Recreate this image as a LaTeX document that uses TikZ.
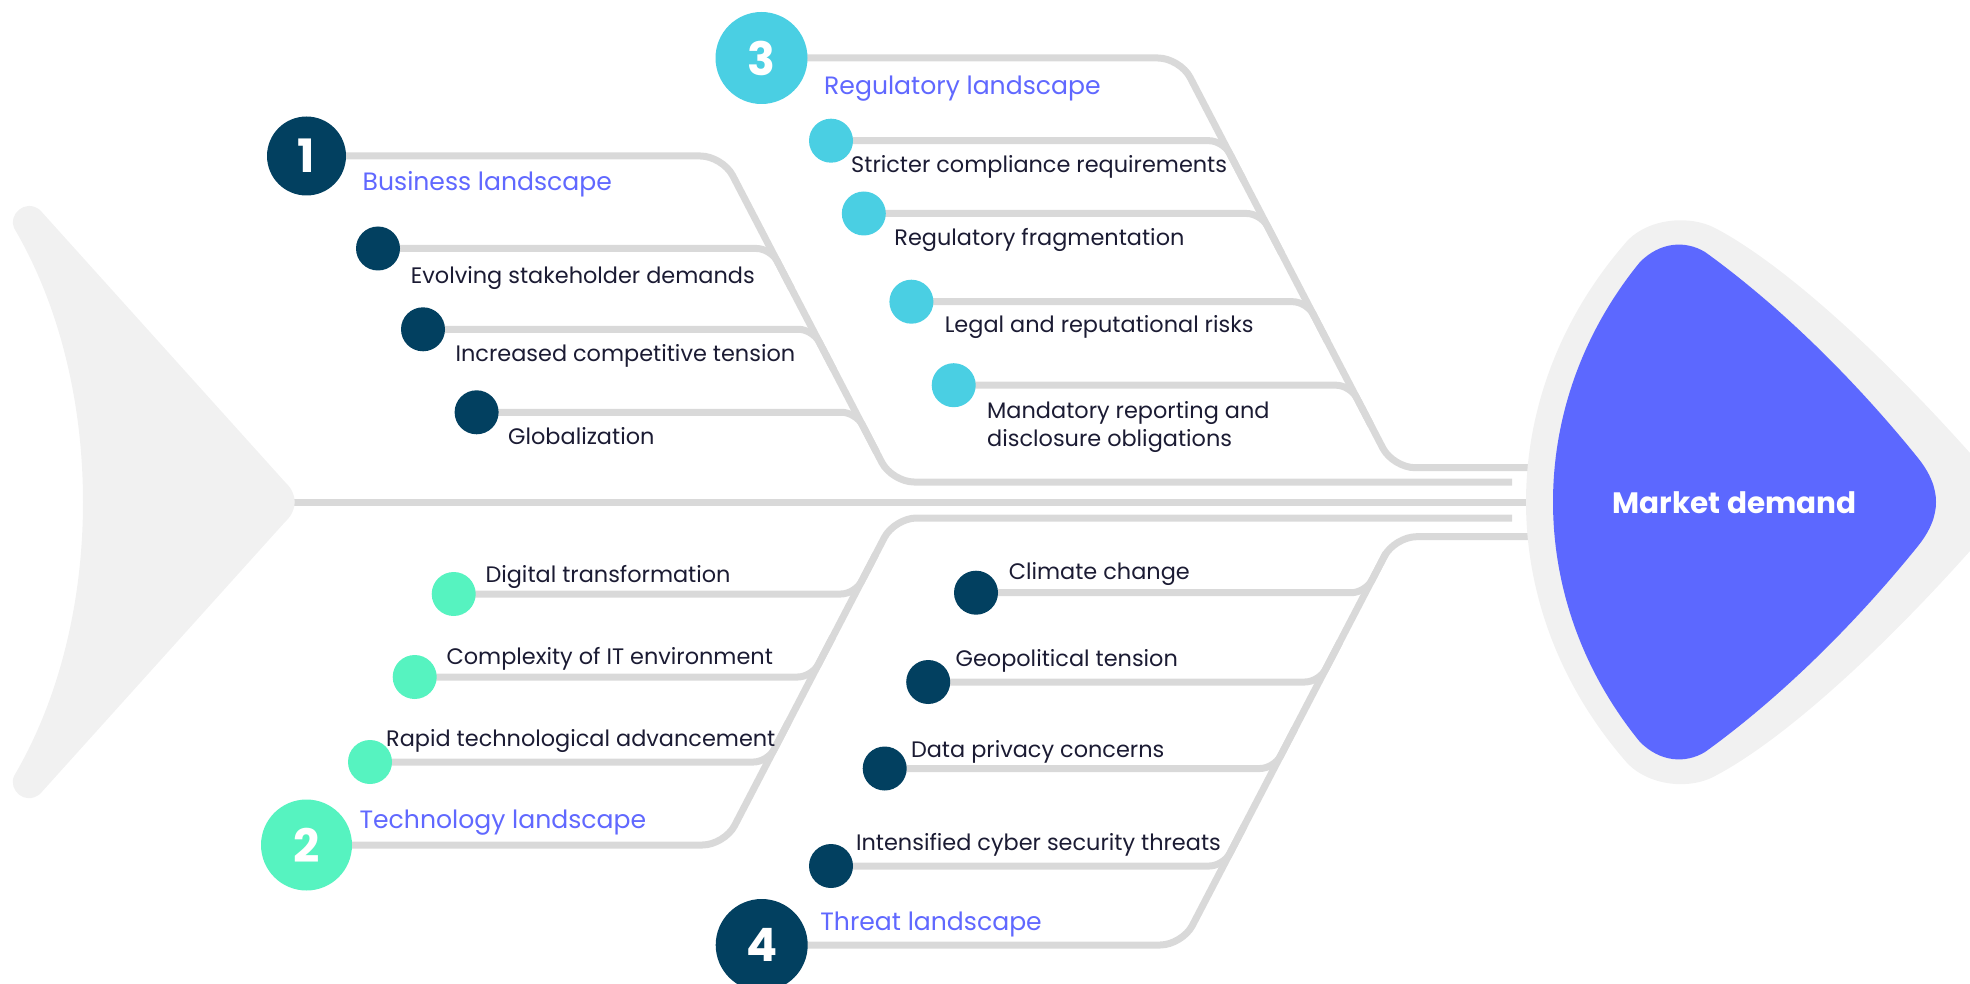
\documentclass[tikz,border=0pt]{standalone}
\usepackage{fontspec}
\setmainfont{Poppins}
\usetikzlibrary{backgrounds}

\definecolor{navy}{HTML}{024060}
\definecolor{cyanish}{HTML}{4ACFE3}
\definecolor{mint}{HTML}{56F3C0}
\definecolor{headblue}{HTML}{5C68FF}
\definecolor{labelblue}{HTML}{6068FF}
\definecolor{bonegray}{HTML}{D9D9D9}
\definecolor{fishgray}{HTML}{F1F1F1}
\definecolor{ink}{HTML}{1B1B33}

\begin{document}
\begin{tikzpicture}[x=1pt,y=-1pt,
  bone/.style={draw=bonegray,line width=7pt,rounded corners=22pt},
  twig/.style={draw=bonegray,line width=7pt,rounded corners=14pt},
  subdot/.style={circle,fill=#1,minimum size=44pt,inner sep=0pt},
  numdot/.style={circle,text=white,inner sep=0pt,font=\fontsize{46}{46}\selectfont\bfseries},
  cause/.style={anchor=base west,inner sep=0pt,text=ink,font=\fontsize{22.4}{28.4}\selectfont},
  groupname/.style={anchor=base west,inner sep=0pt,text=labelblue,font=\fontsize{25.1}{30}\selectfont}]

\useasboundingbox (0,0) rectangle (1970,984);
\clip (0,0) rectangle (1970,984);

% tail fin
\fill[fishgray] (14,228) .. controls (8,215) and (25,198) .. (40,210)
  -- (285,482) .. controls (298,494) and (298,510) .. (285,522)
  -- (40,794) .. controls (25,806) and (8,790) .. (14,776)
  .. controls (106,620) and (106,384) .. (14,228) -- cycle;
\coordinate (tailtip) at (290,502);

% head: grey rim and blue body
\fill[fishgray] (1628,240) .. controls (1650,218) and (1690,215) .. (1715,228)
  .. controls (1780,262) and (1880,350) .. (1985,470)
  .. controls (2005,490) and (2005,515) .. (1985,534)
  .. controls (1880,654) and (1780,742) .. (1715,776)
  .. controls (1690,790) and (1650,786) .. (1628,764)
  .. controls (1492,610) and (1492,394) .. (1628,240) -- cycle;
\fill[headblue] (1640,262) .. controls (1660,242) and (1685,240) .. (1705,252)
  .. controls (1780,306) and (1855,380) .. (1918,458)
  .. controls (1942,488) and (1942,516) .. (1918,546)
  .. controls (1855,624) and (1780,698) .. (1705,752)
  .. controls (1685,764) and (1660,762) .. (1640,742)
  .. controls (1524,600) and (1524,404) .. (1640,262) -- cycle;
\node[text=white,font=\fontsize{29.5}{30}\selectfont\bfseries,anchor=base,inner sep=0pt]
  (md) at (1734.5,513.5) {Market demand};
\coordinate (headin) at (1560,502);

% group circles
\node[numdot,fill=navy,minimum size=79pt] (n1) at (306.5,156) {1};
\node[numdot,fill=mint,minimum size=91pt] (n2) at (306.5,845) {2};
\node[numdot,fill=cyanish,minimum size=92pt] (n3) at (761.5,58) {3};
\node[numdot,fill=navy,minimum size=92pt] (n4) at (761.7,945) {4};

% cause circles
\node[subdot=navy] (s11) at (378,248.5) {};
\node[subdot=navy] (s12) at (423,329.3) {};
\node[subdot=navy] (s13) at (476.6,412.3) {};
\node[subdot=mint] (s21) at (453.7,594) {};
\node[subdot=mint] (s22) at (414.7,677) {};
\node[subdot=mint] (s23) at (370,762) {};
\node[subdot=cyanish] (s31) at (831,140.7) {};
\node[subdot=cyanish] (s32) at (863.8,213.5) {};
\node[subdot=cyanish] (s33) at (911.4,301.7) {};
\node[subdot=cyanish] (s34) at (953.7,385.2) {};
\node[subdot=navy] (s41) at (976,592.7) {};
\node[subdot=navy] (s42) at (928.2,682) {};
\node[subdot=navy] (s43) at (884.7,768.5) {};
\node[subdot=navy] (s44) at (831,866) {};

% bones, behind everything
\begin{scope}[on background layer]
  \draw[draw=bonegray,line width=7pt] (tailtip) -- (headin);
  % business
  \draw[bone] (n1.center) -- (722.5,156) -- (892,482) -- (1512,482);
  \draw[twig] (s11.center) -- (770.6,248.5) -- (791.4,288.5);
  \draw[twig] (s12.center) -- (812.6,329.3) -- (833.4,369.3);
  \draw[twig] (s13.center) -- (855.8,412.3) -- (876.6,452.3);
  % technology
  \draw[bone] (n2.center) -- (724.5,845) -- (894.5,518) -- (1512,518);
  \draw[twig] (s21.center) -- (855,594) -- (875.8,554);
  \draw[twig] (s22.center) -- (811.8,677) -- (832.6,637);
  \draw[twig] (s23.center) -- (767.6,762) -- (788.4,722);
  % regulatory
  \draw[bone] (n3.center) -- (1180,58) -- (1393,467.7) -- (1560,467.7);
  \draw[twig] (s31.center) -- (1223,140.7) -- (1243.8,180.7);
  \draw[twig] (s32.center) -- (1260.8,213.5) -- (1281.6,253.5);
  \draw[twig] (s33.center) -- (1306.7,301.7) -- (1327.5,341.7);
  \draw[twig] (s34.center) -- (1350.1,385.2) -- (1370.9,425.2);
  % threat
  \draw[bone] (n4.center) -- (1182.2,945) -- (1394.5,536.7) -- (1560,536.7);
  \draw[twig] (s41.center) -- (1365.4,592.7) -- (1386.2,552.7);
  \draw[twig] (s42.center) -- (1319,682) -- (1339.8,642);
  \draw[twig] (s43.center) -- (1274,768.5) -- (1294.8,728.5);
  \draw[twig] (s44.center) -- (1223.3,866) -- (1244.1,826);
\end{scope}

% labels
\node[groupname] (g1) at (362.5,190.7) {Business landscape};
\node[cause] (c11) at (410.7,283.3) {Evolving stakeholder demands};
\node[cause] (c12) at (455.4,361.7) {Increased competitive tension};
\node[cause] (c13) at (508,444) {Globalization};

\node[groupname] (g2) at (359.4,828.3) {Technology landscape};
\node[cause] (c21) at (485.3,582.3) {Digital transformation};
\node[cause] (c22) at (446.4,664) {Complexity of IT environment};
\node[cause] (c23) at (386,746.7) {Rapid technological advancement};

\node[groupname] (g3) at (824,95) {Regulatory landscape};
\node[cause] (c31) at (851,172.7) {Stricter compliance requirements};
\node[cause] (c32) at (894.2,246) {Regulatory fragmentation};
\node[cause] (c33) at (944.6,332.7) {Legal and reputational risks};
\node[cause,align=left] (c34) at (987,446.7) {Mandatory reporting and\\disclosure obligations};

\node[groupname] (g4) at (820.2,930) {Threat landscape};
\node[cause] (c41) at (1008.6,579) {Climate change};
\node[cause] (c42) at (955.4,666.7) {Geopolitical tension};
\node[cause] (c43) at (910.8,757.3) {Data privacy concerns};
\node[cause] (c44) at (855.9,850) {Intensified cyber security threats};
\end{tikzpicture}
\end{document}
